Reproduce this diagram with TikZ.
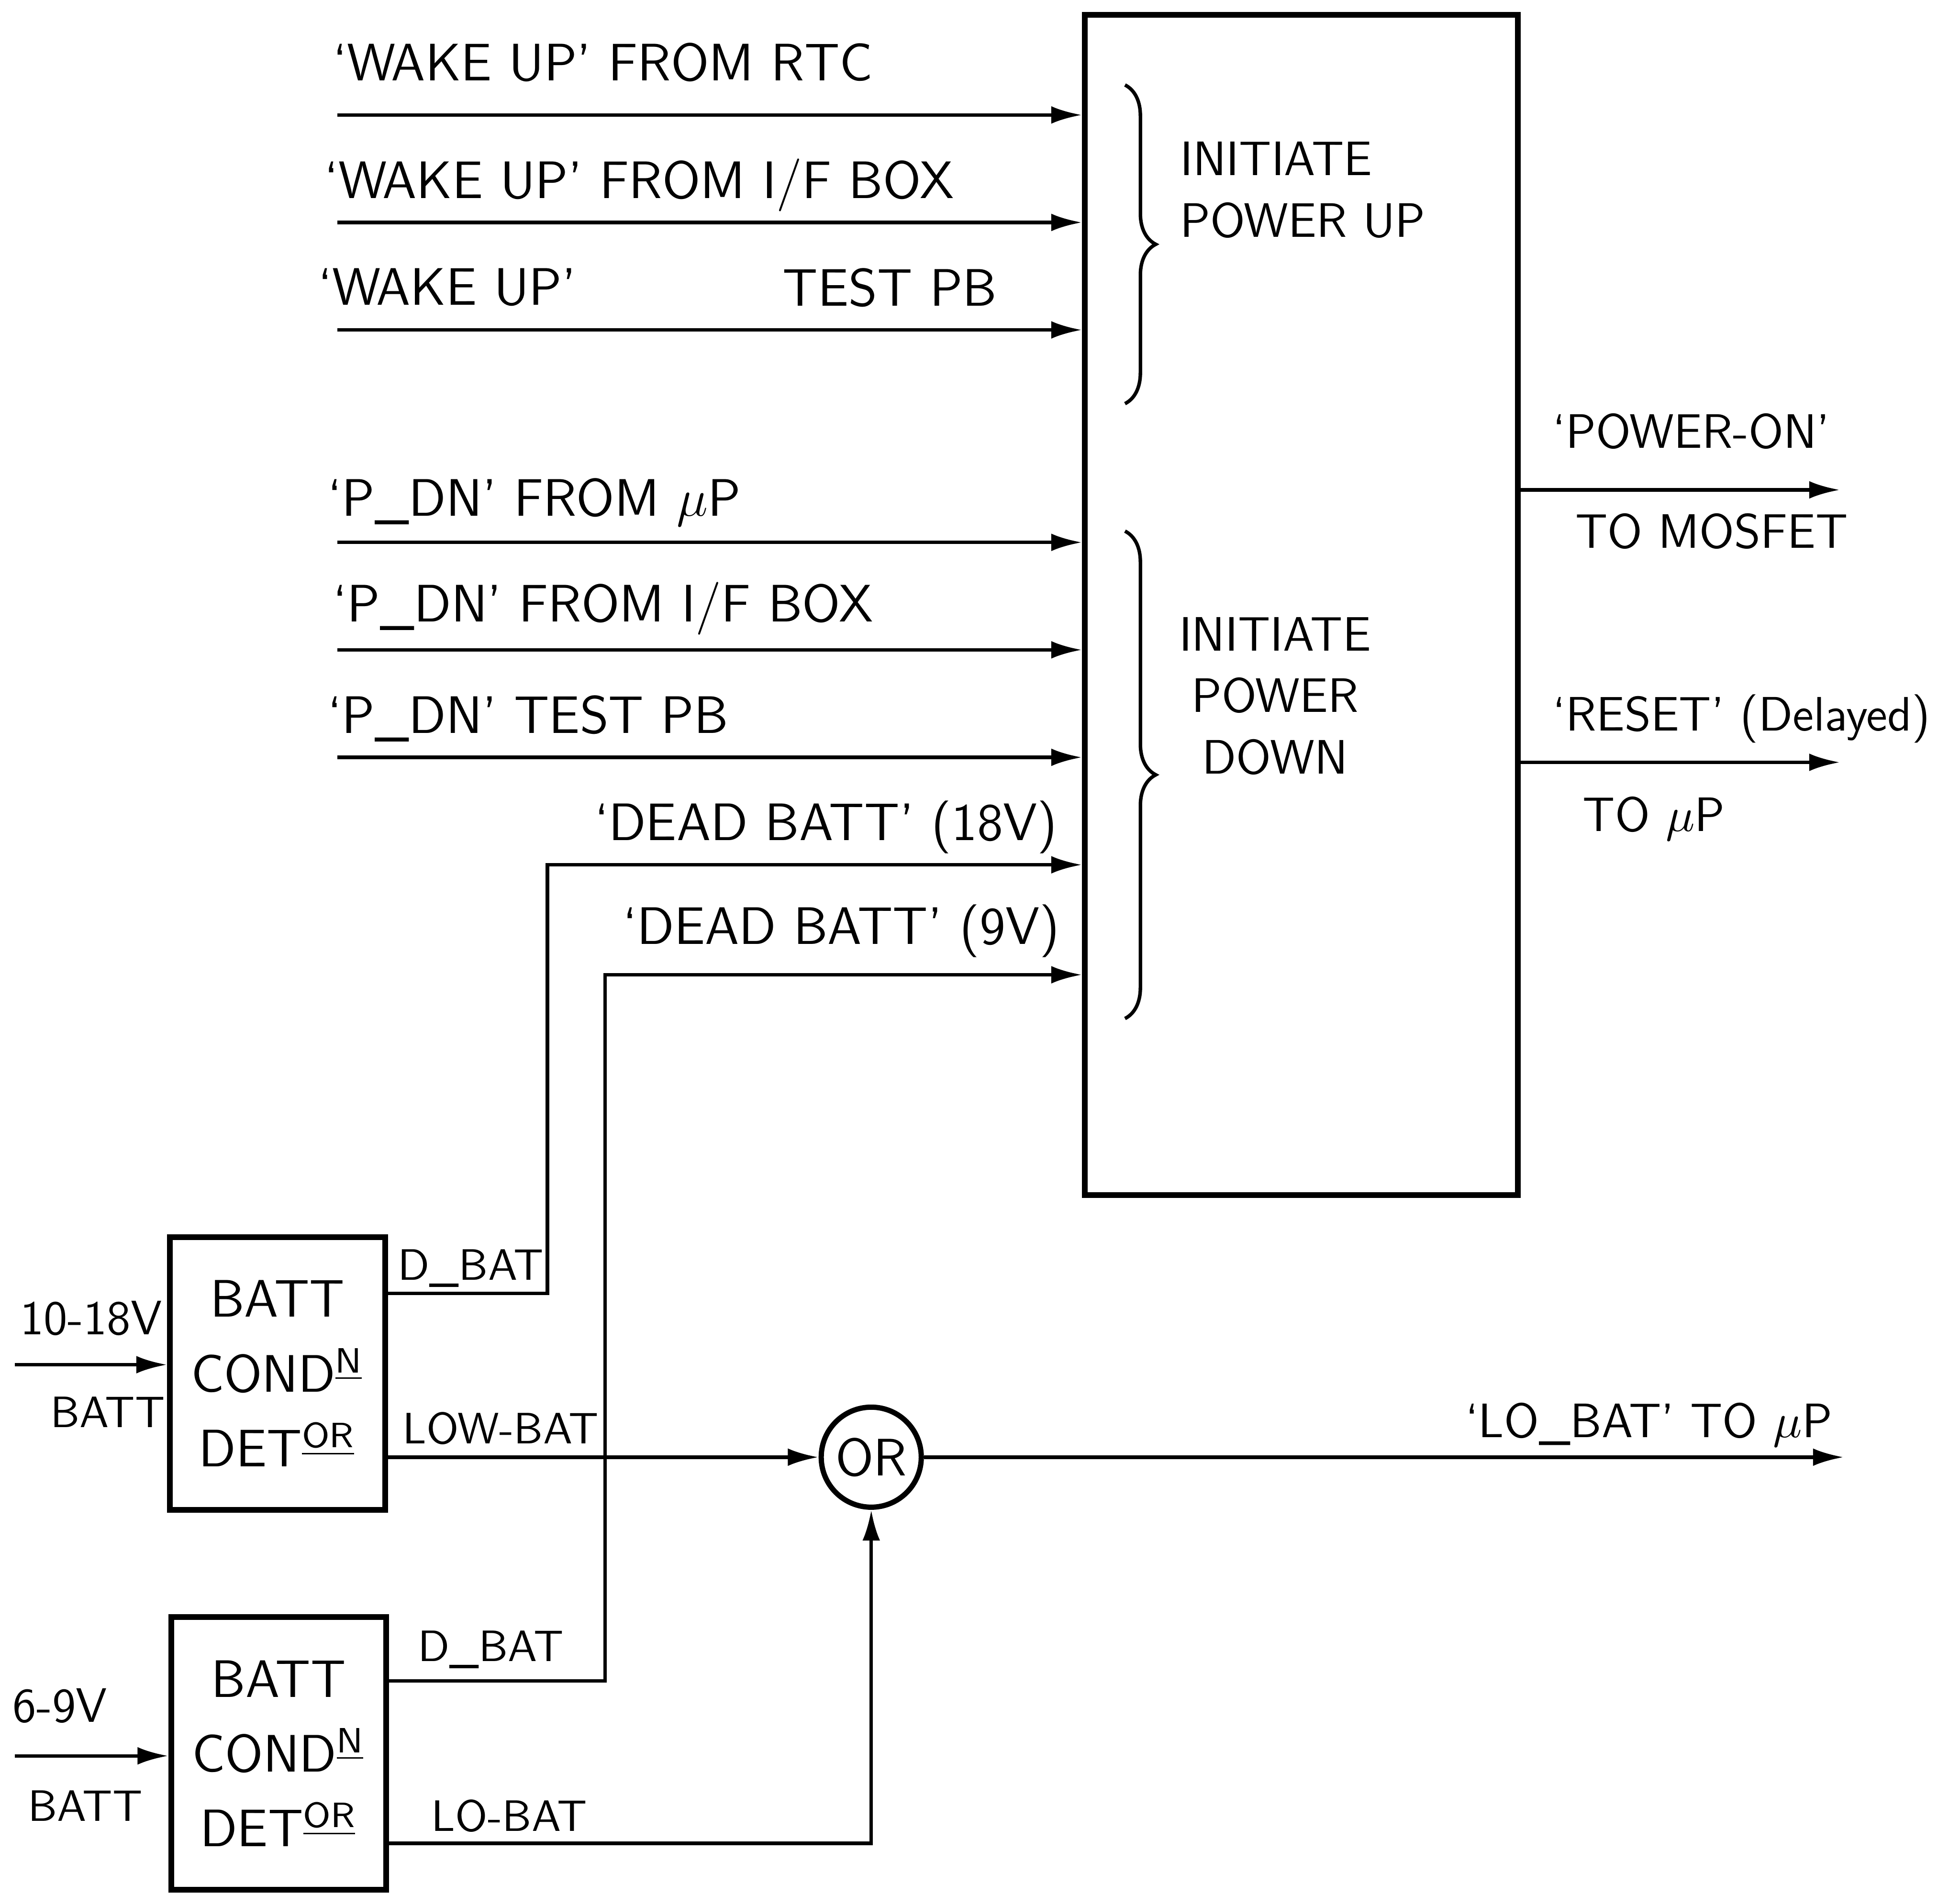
\documentclass[tikz,border=0pt]{standalone}
\usepackage{amsmath,amssymb}
\usepackage{tikz}
\usetikzlibrary{arrows.meta,calc,decorations.pathreplacing}

\begin{document}
\begin{tikzpicture}[
  x=0.01cm, y=-0.01cm,
  block/.style={draw, line width=1.3pt, inner sep=0pt},
  detbox/.style={block, minimum width=1.72cm, minimum height=2.18cm, align=center,
                 font=\sffamily\fontsize{12}{17}\selectfont},
  lbl/.style={font=\sffamily\fontsize{12}{14}\selectfont, inner sep=1pt},
  midlbl/.style={font=\sffamily\fontsize{11}{14}\selectfont, inner sep=1pt},
  smalllbl/.style={font=\sffamily\fontsize{10}{12}\selectfont, inner sep=1pt},
  curly/.style={thick, decorate, decoration={brace, amplitude=7pt}},
  >={Latex[length=7pt,width=4pt]}
]
  \useasboundingbox (0,0) rectangle (1568,1516);

  % control block
  \node[block, minimum width=3.46cm, minimum height=9.44cm] (ctrl) at (1041,484) {};
  \draw[curly] (900,68) -- (900,323);
  \draw[curly] (900,425) -- (900,815);
  \node[midlbl, anchor=west, align=left] (pwrup) at (940,152) {INITIATE\\POWER UP};
  \node[midlbl, align=center] (pwrdn) at (1020,557) {INITIATE\\POWER\\DOWN};

  % wake-up and power-down inputs
  \coordinate (wake1) at (270,92);
  \coordinate (wake2) at (270,178);
  \coordinate (wake3) at (270,264);
  \coordinate (pdn1) at (270,434);
  \coordinate (pdn2) at (270,520);
  \coordinate (pdn3) at (270,606);
  \coordinate (dead18) at (438,692);
  \coordinate (dead9) at (484,780);

  \draw[->,thick] (wake1) -- (wake1 -| ctrl.west);
  \draw[->,thick] (wake2) -- (wake2 -| ctrl.west);
  \draw[->,thick] (wake3) -- (wake3 -| ctrl.west);
  \draw[->,thick] (pdn1) -- (pdn1 -| ctrl.west);
  \draw[->,thick] (pdn2) -- (pdn2 -| ctrl.west);
  \draw[->,thick] (pdn3) -- (pdn3 -| ctrl.west);

  \node[lbl, anchor=west] (lwake1) at (262,50) {`WAKE UP' FROM RTC};
  \node[lbl, anchor=west] (lwake2) at (255,148) {`WAKE UP' FROM I/F BOX};
  \node[lbl, anchor=west] (lwake3) at (250,230) {`WAKE UP'};
  \node[lbl, anchor=west] (ltest1) at (622,230) {TEST PB};
  \node[lbl, anchor=west] (lpdn1) at (258,402) {`P\_DN' FROM $\mu$P};
  \node[lbl, anchor=west] (lpdn2) at (262,487) {`P\_DN' FROM I/F BOX};
  \node[lbl, anchor=west] (lpdn3) at (258,575) {`P\_DN' TEST PB};
  \node[lbl, anchor=east] (ldead18) at (850,662) {`DEAD BATT' (18V)};
  \node[lbl, anchor=east] (ldead9) at (852,745) {`DEAD BATT' (9V)};

  % outputs of control block
  \coordinate (pwron) at (1472,392);
  \coordinate (reset) at (1472,610);
  \draw[->,thick] (ctrl.east |- pwron) -- (pwron);
  \draw[->,thick] (ctrl.east |- reset) -- (reset);
  \node[midlbl, anchor=west] (lpwron) at (1238,345) {`POWER-ON'};
  \node[midlbl, anchor=west] (lmosfet) at (1256,425) {TO MOSFET};
  \node[midlbl, anchor=west] (lreset) at (1238,575) {`RESET' (Delayed)};
  \node[midlbl, anchor=west] (lresetup) at (1262,655) {TO $\mu$P};

  % battery condition detectors
  \node[detbox] (det18) at (222,1099) {BATT\\COND\textsuperscript{\underline{N}}\\DET\textsuperscript{\underline{OR}}};
  \node[detbox] (det9) at (223,1403) {BATT\\COND\textsuperscript{\underline{N}}\\DET\textsuperscript{\underline{OR}}};
  \node[draw, circle, line width=1.2pt, minimum size=0.8cm, inner sep=0pt, lbl] (orgate) at (697,1166) {OR};

  \coordinate (vin18) at (12,1092);
  \coordinate (vin9) at (12,1405);
  \draw[->,thick] (vin18) -- (vin18 -| det18.west);
  \draw[->,thick] (vin9) -- (vin9 -| det9.west);
  \node[midlbl, anchor=west] (l18v) at (12,1055) {10-18V};
  \node[smalllbl, anchor=west] (lbatt18) at (36,1130) {BATT};
  \node[midlbl, anchor=west] (l9v) at (6,1365) {6-9V};
  \node[smalllbl, anchor=west] (lbatt9) at (18,1445) {BATT};

  \draw[->,thick] ([yshift=0.64cm]det18.east) -| (dead18) -- (dead18 -| ctrl.west);
  \draw[->,thick] ([yshift=0.58cm]det9.east) -| (dead9) -- (dead9 -| ctrl.west);
  \draw[->,thick] (det18.east |- orgate.west) -- (orgate.west);
  \draw[->,thick] ([yshift=-0.72cm]det9.east) -| (orgate.south);
  \node[smalllbl, anchor=west] (ldbat18) at (314,1015) {D\_BAT};
  \node[smalllbl, anchor=west] (llowbat) at (318,1143) {LOW-BAT};
  \node[smalllbl, anchor=west] (ldbat9) at (330,1320) {D\_BAT};
  \node[smalllbl, anchor=west] (llobat) at (341,1453) {LO-BAT};

  % low battery output
  \coordinate (lobat) at (1475,1166);
  \draw[->,thick] (orgate.east) -- (lobat);
  \node[midlbl, anchor=west] (llobatout) at (1168,1140) {`LO\_BAT' TO $\mu$P};
\end{tikzpicture}
\end{document}
